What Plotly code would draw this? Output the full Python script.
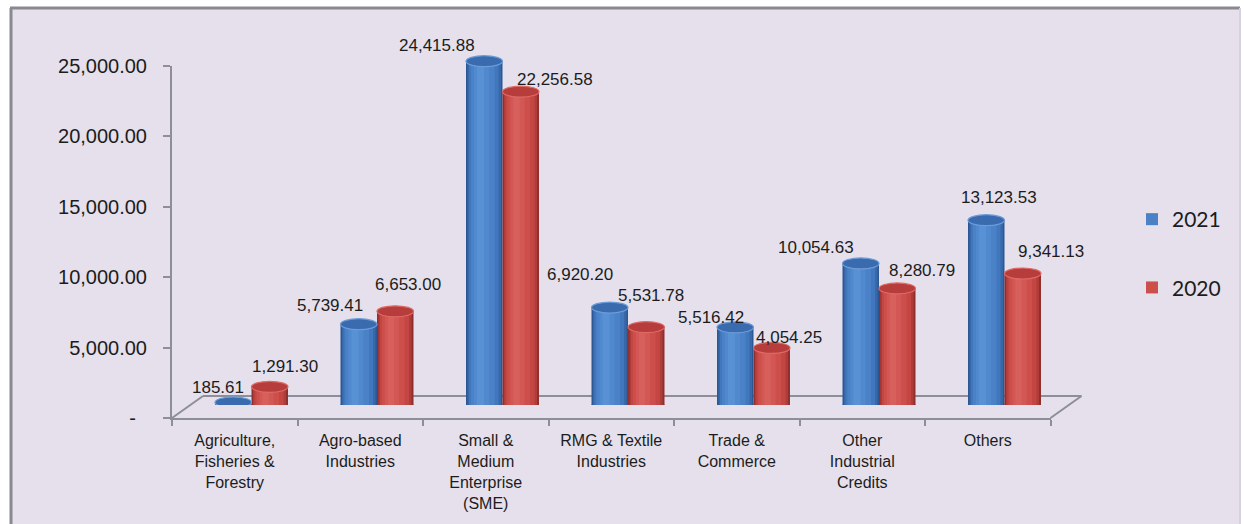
import plotly.graph_objects as go

# ---- data -------------------------------------------------------------
categories = [
    "Agriculture,<br>Fisheries &<br>Forestry",
    "Agro-based<br>Industries",
    "Small &<br>Medium<br>Enterprise<br>(SME)",
    "RMG & Textile<br>Industries",
    "Trade &<br>Commerce",
    "Other<br>Industrial<br>Credits",
    "Others",
]
values_2021 = [185.61, 5739.41, 24415.88, 6920.20, 5516.42, 10054.63, 13123.53]
values_2020 = [1291.30, 6653.00, 22256.58, 5531.78, 4054.25, 8280.79, 9341.13]
series_names = ["2021", "2020"]
y_tick_values = [0, 5000, 10000, 15000, 20000, 25000]

# ---- geometry / style -------------------------------------------------
W_PX, H_PX = 1244, 524
CAT_PX = 125.5              # pixel width of one category
BAR_PX = 36.5               # pixel width of one cylinder
BAR_W = BAR_PX / CAT_PX     # same in category units
FRONT_X0 = 172              # left end of the front floor edge
DEPTH_DX = 16.75            # horizontal shift of the bar plane (3D depth)
Y0_FRONT, Y_TOP = 418, 66   # pixel rows of 0 and 25,000 on the value axis
DEPTH_DY = 13               # vertical shift of the bar plane


def px_x(p):
    return p / W_PX


def px_y(p):
    return 1 - p / H_PX


# shading layers of a cylinder: (left px, right px, colour)
blue_layers = [
    (0, 36.5, "#2B5894"), (1.5, 35, "#3868A8"), (3, 32.5, "#4177BD"),
    (5, 28.5, "#4A81C7"), (8, 23, "#5189CF"), (11, 18, "#5891D4"),
]
red_layers = [
    (0, 36.5, "#8F2F2E"), (1.5, 34.5, "#B03C3A"), (3, 32, "#C44643"),
    (5, 27.5, "#CD4F4C"), (8, 22, "#D35855"), (11, 17, "#D8605C"),
]
# value-label placement around each cylinder top (pixels)
label_dx_2021 = [-15, -29, -47, -30, -24, -45, 13]
label_dy_2021 = [15, 19, 16, 33, 10, 16, 23]
label_dx_2020 = [15, 13, 34, 5, 17, 25, 28]
label_dy_2020 = [20, 27, 12, 32, 10, 18, 22]

series_style = [
    dict(values=values_2021, layers=blue_layers, start=-BAR_W, legend_layer=3,
         cap_fill="#3A6BAF", cap_line="#6C9CD8", base="#3D70B2",
         dx=label_dx_2021, dy=label_dy_2021),
    dict(values=values_2020, layers=red_layers, start=0.0, legend_layer=3,
         cap_fill="#B63D3B", cap_line="#DE6A66", base="#BE4441",
         dx=label_dx_2020, dy=label_dy_2020),
]

FRAME_BG = "#E5E0EB"
AXIS_GREY = "#8E8E98"
TEXT = "#1C1C1C"

front_x1 = FRONT_X0 + CAT_PX * len(categories)

fig = go.Figure()
shapes = []
annotations = []

# ---- frame ------------------------------------------------------------
shapes.append(dict(type="rect", xref="paper", yref="paper", layer="below",
                   x0=px_x(11), x1=px_x(1240), y0=-0.05, y1=px_y(8),
                   fillcolor=FRAME_BG, line=dict(width=0)))
shapes.append(dict(type="line", xref="paper", yref="paper", layer="below",
                   x0=px_x(11), x1=px_x(11), y0=-0.05, y1=px_y(8),
                   line=dict(color="#8A8890", width=3)))
shapes.append(dict(type="line", xref="paper", yref="paper", layer="below",
                   x0=px_x(10), x1=px_x(1240), y0=px_y(8), y1=px_y(8),
                   line=dict(color="#8A8890", width=3)))
shapes.append(dict(type="line", xref="paper", yref="paper", layer="below",
                   x0=px_x(1240), x1=px_x(1240), y0=-0.05, y1=px_y(8),
                   line=dict(color="#D6D1DC", width=2)))

# ---- 3D floor outline ---------------------------------------------------
back_y = Y0_FRONT - 22
floor_lines = [
    ((FRONT_X0 + 31, back_y), (front_x1 + 31, back_y)),
    ((FRONT_X0, Y0_FRONT), (FRONT_X0 + 31, back_y)),
    ((front_x1, Y0_FRONT), (front_x1 + 31, back_y)),
]
for (xa, ya), (xb, yb) in floor_lines:
    shapes.append(dict(type="line", xref="paper", yref="paper", layer="below",
                       x0=px_x(xa), y0=px_y(ya), x1=px_x(xb), y1=px_y(yb),
                       line=dict(color=AXIS_GREY, width=2)))

# invisible trace so the front value/category axes are drawn
fig.add_trace(go.Scatter(x=categories, y=[0] * len(categories),
                         xaxis="x", yaxis="y", mode="markers",
                         marker=dict(opacity=0), showlegend=False,
                         hoverinfo="skip"))

# ---- cylinders ----------------------------------------------------------
for name, st in zip(series_names, series_style):
    for k, (l0, l1, col) in enumerate(st["layers"]):
        fig.add_trace(go.Bar(
            x=categories, y=st["values"], xaxis="x2", yaxis="y2",
            offset=st["start"] + l0 / CAT_PX, width=(l1 - l0) / CAT_PX,
            marker=dict(color=col, line=dict(width=0)),
            name=name, legendgroup=name,
            showlegend=(k == st["legend_layer"]),
            hovertemplate="%{y:,.2f}<extra>" + name + "</extra>",
        ))
    for i, v in enumerate(st["values"]):
        x0 = i + st["start"]
        x1 = x0 + BAR_W
        # rounded bottom
        shapes.append(dict(type="circle", xref="x2", yref="y2", layer="below",
                           x0=x0, x1=x1, ysizemode="pixel", yanchor=0,
                           y0=-5, y1=5, fillcolor=st["base"],
                           line=dict(width=0)))
        # top cap
        shapes.append(dict(type="circle", xref="x2", yref="y2", layer="above",
                           x0=x0, x1=x1, ysizemode="pixel", yanchor=v,
                           y0=-5.5, y1=5.5, fillcolor=st["cap_fill"],
                           line=dict(color=st["cap_line"], width=1.2)))
        # value label
        annotations.append(dict(
            xref="x2", yref="y2", x=i + st["start"] + BAR_W / 2, y=v,
            text=f"{v:,.2f}", showarrow=False,
            xanchor="center", yanchor="middle",
            xshift=st["dx"][i], yshift=st["dy"][i],
            font=dict(family="Liberation Sans, Arial", size=17, color=TEXT),
        ))

y_tick_text = [f"{t:,.2f}" if t else "-\u00a0\u00a0" for t in y_tick_values]

fig.update_layout(
    width=W_PX, height=H_PX,
    margin=dict(l=0, r=0, t=0, b=0, pad=0, autoexpand=False),
    paper_bgcolor="white", plot_bgcolor="rgba(0,0,0,0)",
    barmode="overlay",
    shapes=shapes, annotations=annotations,
    font=dict(family="Liberation Sans, Arial", color=TEXT),
    xaxis=dict(
        domain=[px_x(FRONT_X0), px_x(front_x1)], anchor="y",
        type="category", categoryorder="array", categoryarray=categories,
        range=[-0.5, len(categories) - 0.5],
        showline=True, linecolor=AXIS_GREY, linewidth=2,
        ticks="outside", tickson="boundaries", ticklen=6, tickwidth=2,
        tickcolor=AXIS_GREY, showgrid=False, zeroline=False,
        ticklabelstandoff=7,
        tickfont=dict(size=16, color=TEXT), fixedrange=True,
        automargin=False,
    ),
    yaxis=dict(
        domain=[px_y(Y0_FRONT), px_y(Y_TOP)], anchor="x",
        range=[0, 25000], tickvals=y_tick_values, ticktext=y_tick_text,
        showline=True, linecolor=AXIS_GREY, linewidth=2,
        ticks="outside", ticklen=7, tickwidth=2, tickcolor=AXIS_GREY,
        ticklabelstandoff=12,
        showgrid=False, zeroline=False,
        tickfont=dict(size=20, color=TEXT), fixedrange=True,
        automargin=False,
    ),
    xaxis2=dict(
        domain=[px_x(FRONT_X0 + DEPTH_DX), px_x(front_x1 + DEPTH_DX)],
        anchor="y2", type="category", categoryorder="array",
        categoryarray=categories, range=[-0.5, len(categories) - 0.5],
        visible=False, fixedrange=True,
    ),
    yaxis2=dict(
        domain=[px_y(Y0_FRONT - DEPTH_DY), px_y(Y_TOP - DEPTH_DY)],
        anchor="x2", range=[0, 25000], visible=False, fixedrange=True,
    ),
    legend=dict(
        x=px_x(1132), y=px_y(199), xanchor="left", yanchor="top",
        bgcolor="rgba(0,0,0,0)", tracegroupgap=38, traceorder="grouped",
        font=dict(family="Lato, Liberation Sans", size=21, color=TEXT),
    ),
    showlegend=True,
)

fig.write_html("out.html")
